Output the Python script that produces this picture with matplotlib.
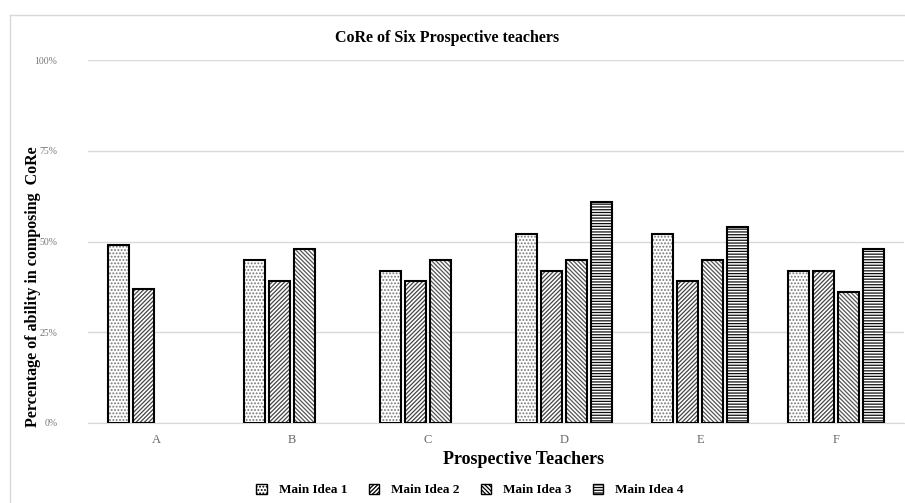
import matplotlib
matplotlib.use("Agg")
import matplotlib.pyplot as plt
from matplotlib.patches import Patch
from matplotlib.lines import Line2D
import numpy as np

plt.rcParams['font.family'] = ['Liberation Serif', 'DejaVu Serif']
plt.rcParams['hatch.linewidth'] = 0.9

teachers = ["A", "B", "C", "D", "E", "F"]
series_names = ["Main Idea 1", "Main Idea 2", "Main Idea 3", "Main Idea 4"]
idea1 = [49, 45, 42, 52, 52, 42]
idea2 = [37, 39, 39, 42, 39, 42]
idea3 = [0, 48, 45, 45, 45, 36]
idea4 = [0, 0, 0, 61, 54, 48]
yticks = [0, 25, 50, 75, 100]
ytick_labels = ["0%", "25%", "50%", "75%", "100%"]

series = [idea1, idea2, idea3, idea4]
hatches = [".....", "////////", "\\\\\\\\\\\\\\\\", "------"]
hatch_colors = ["#777777", "#444444", "#555555", "#111111"]

fig = plt.figure(figsize=(9.05, 5.03), dpi=100)
ax = fig.add_axes([88/905, 1-423/503, 816/905, (423-60)/503])

x = np.arange(len(teachers))
step = 0.184
width = 0.155
for i, vals in enumerate(series):
    vals = np.array(vals, dtype=float)
    mask = vals > 0
    pos = x[mask] + (i - 1.5) * step
    ax.bar(pos, vals[mask], width, color="white", edgecolor=hatch_colors[i],
           hatch=hatches[i], linewidth=0, zorder=3)
    ax.bar(pos, vals[mask], width, fill=False, edgecolor="black",
           linewidth=1.5, zorder=4)

ax.set_ylim(0, 100)
ax.set_xlim(-0.5, len(teachers) - 0.5)
ax.set_yticks(yticks)
ax.set_yticklabels(ytick_labels, fontsize=7, color="#777777")
ax.set_xticks(x)
ax.set_xticklabels(teachers, fontsize=9, color="#666666")
ax.tick_params(length=0, pad=8)
ax.tick_params(axis='y', pad=22)
ax.yaxis.grid(True, color="#d9d9d9", linewidth=1, zorder=0)
ax.set_axisbelow(True)
for s in ["top", "right", "left"]:
    ax.spines[s].set_visible(False)
ax.spines["bottom"].set_color("#d9d9d9")

fig.text(447/905, 1-38/503, "CoRe of Six Prospective teachers", ha="center",
         va="center", fontsize=11.5, fontweight="bold")
fig.text(33/905, 1-287/503, "Percentage of ability in composing  CoRe", ha="center",
         va="center", rotation=90, fontsize=11.5, fontweight="bold")
fig.text(524/905, 1-460/503, "Prospective Teachers", ha="center", va="center",
         fontsize=13, fontweight="bold")

handles = [Patch(facecolor="white", edgecolor="black", hatch=hatches[i], linewidth=1)
           for i in range(4)]
fig.legend(handles, series_names, loc="center", bbox_to_anchor=(470/905, 1-490/503),
           ncol=4, frameon=False, prop={'weight': 'bold', 'size': 9.5},
           handlelength=0.8, handleheight=0.8, columnspacing=1.6, handletextpad=0.9)

fig.add_artist(Line2D([10/905, 10/905], [0, 1-15/503], transform=fig.transFigure,
                      color="#d8d8d8", linewidth=1))
fig.add_artist(Line2D([10/905, 1], [1-15/503, 1-15/503], transform=fig.transFigure,
                      color="#d8d8d8", linewidth=1))

fig.savefig("out.png", dpi=100)
